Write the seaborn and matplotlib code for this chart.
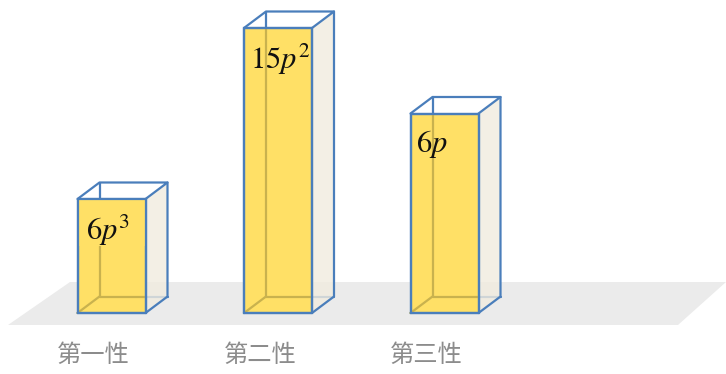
import matplotlib
matplotlib.use("Agg")
import matplotlib.pyplot as plt
import seaborn as sns
import numpy as np
import pandas as pd
from matplotlib.patches import Polygon, Rectangle

sns.set_theme(style="white")
plt.rcParams['font.family'] = ['Noto Sans CJK SC', 'DejaVu Sans']
plt.rcParams['mathtext.fontset'] = 'stix'

# ---- data ----
categories = ["第一性", "第二性", "第三性"]
values = [0.40, 1.00, 0.70]
bar_labels = [r"$6p^3$", r"$15p^2$", r"$6p$"]
label_boxed = [True, False, False]

# ---- style ----
YELLOW = "#FFE066"
OLIVE = "#C9B24E"
SIDE = "#F1ECDF"
BLUE = "#4A7EBB"
FLOOR = "#EBEBEB"
TXT = "#8C8C8C"

W_PX, H_PX = 726, 374
PX_X = 166.5          # pixels per category unit
PX_Y = 285.0          # pixels per value unit
X0_PX = 111.5         # pixel x of first category centre
BASE_PX = 313         # pixel y (from top) of the bar base

def dx(px):  # horizontal pixel distance -> data
    return px / PX_X

def dy(px):  # vertical pixel distance -> data
    return px / PX_Y

fig = plt.figure(figsize=(W_PX / 100, H_PX / 100), dpi=100)
ax = fig.add_axes([0, 0, 1, 1])

df = pd.DataFrame({"cat": categories, "val": values})
bar_w = 68 / PX_X
sns.barplot(data=df, x="cat", y="val", width=bar_w, color=YELLOW,
            saturation=1, edgecolor=BLUE, linewidth=1.6, ax=ax, zorder=5)
bars = list(ax.patches)

ax.set_xlim(-X0_PX / PX_X, (W_PX - X0_PX) / PX_X)
ax.set_ylim(-(H_PX - BASE_PX) / PX_Y, BASE_PX / PX_Y)
ax.axis("off")

# floor
xl, xr = ax.get_xlim()
def X(px):
    return xl + px / PX_X
def Y(py):
    return (BASE_PX - py) / PX_Y
floor = Polygon([(X(8), Y(325)), (X(70), Y(282)), (X(726), Y(282)), (X(678), Y(325))],
                closed=True, facecolor=FLOOR, edgecolor="none", zorder=0)
ax.add_patch(floor)

DX, DY = dx(22), dy(16.5)
lw = 1.6
for i, p in enumerate(bars):
    x0 = p.get_x()
    x1 = x0 + p.get_width()
    h = p.get_height()
    bx0, bx1 = x0 + DX, x1 + DX
    # hidden back edges (blue)
    ax.plot([bx0, bx0], [DY, h + DY], color=BLUE, lw=lw, zorder=2)
    ax.plot([bx0, bx1], [DY, DY], color=BLUE, lw=lw, zorder=2)
    ax.plot([x0, bx0], [0, DY], color=BLUE, lw=lw, zorder=2)
    # side face
    side = Polygon([(x1, 0), (x1, h), (bx1, h + DY), (bx1, DY)], closed=True,
                   facecolor=SIDE, edgecolor="none", alpha=0.8, zorder=3)
    ax.add_patch(side)
    # back edges seen through yellow front face
    ax.plot([bx0, bx0], [DY, h], color=OLIVE, lw=lw, zorder=6)
    ax.plot([bx0, x1], [DY, DY], color=OLIVE, lw=lw, zorder=6)
    ax.plot([x0, bx0], [0, DY], color=OLIVE, lw=lw, zorder=6)
    # opaque label panel (first bar only)
    if label_boxed[i]:
        ax.add_patch(Rectangle((x0, h - dy(47)), x1 - x0, dy(47),
                               facecolor=YELLOW, edgecolor="none", zorder=6.5))
    # visible outer edges
    ax.plot([x0, bx0, bx1, x1], [h, h + DY, h + DY, h], color=BLUE, lw=lw, zorder=7,
            solid_joinstyle="round")
    ax.plot([bx1, bx1, x1], [h + DY, DY, 0], color=BLUE, lw=lw, zorder=7,
            solid_joinstyle="round")
    ax.plot([x0, x1, x1, x0, x0], [0, 0, h, h, 0], color=BLUE, lw=lw, zorder=8,
            solid_joinstyle="round")
    # value label
    ax.text(x0 + dx(8 if label_boxed[i] else 6), h - dy(31), bar_labels[i],
            fontsize=22, color="#111111", ha="left", va="center", zorder=7.5)
    # category label
    ax.text((x0 + x1) / 2 - dx(18), Y(355), categories[i],
            fontsize=17.5, color=TXT, ha="center", va="center", fontweight="light")

fig.savefig("out.png", dpi=100)
